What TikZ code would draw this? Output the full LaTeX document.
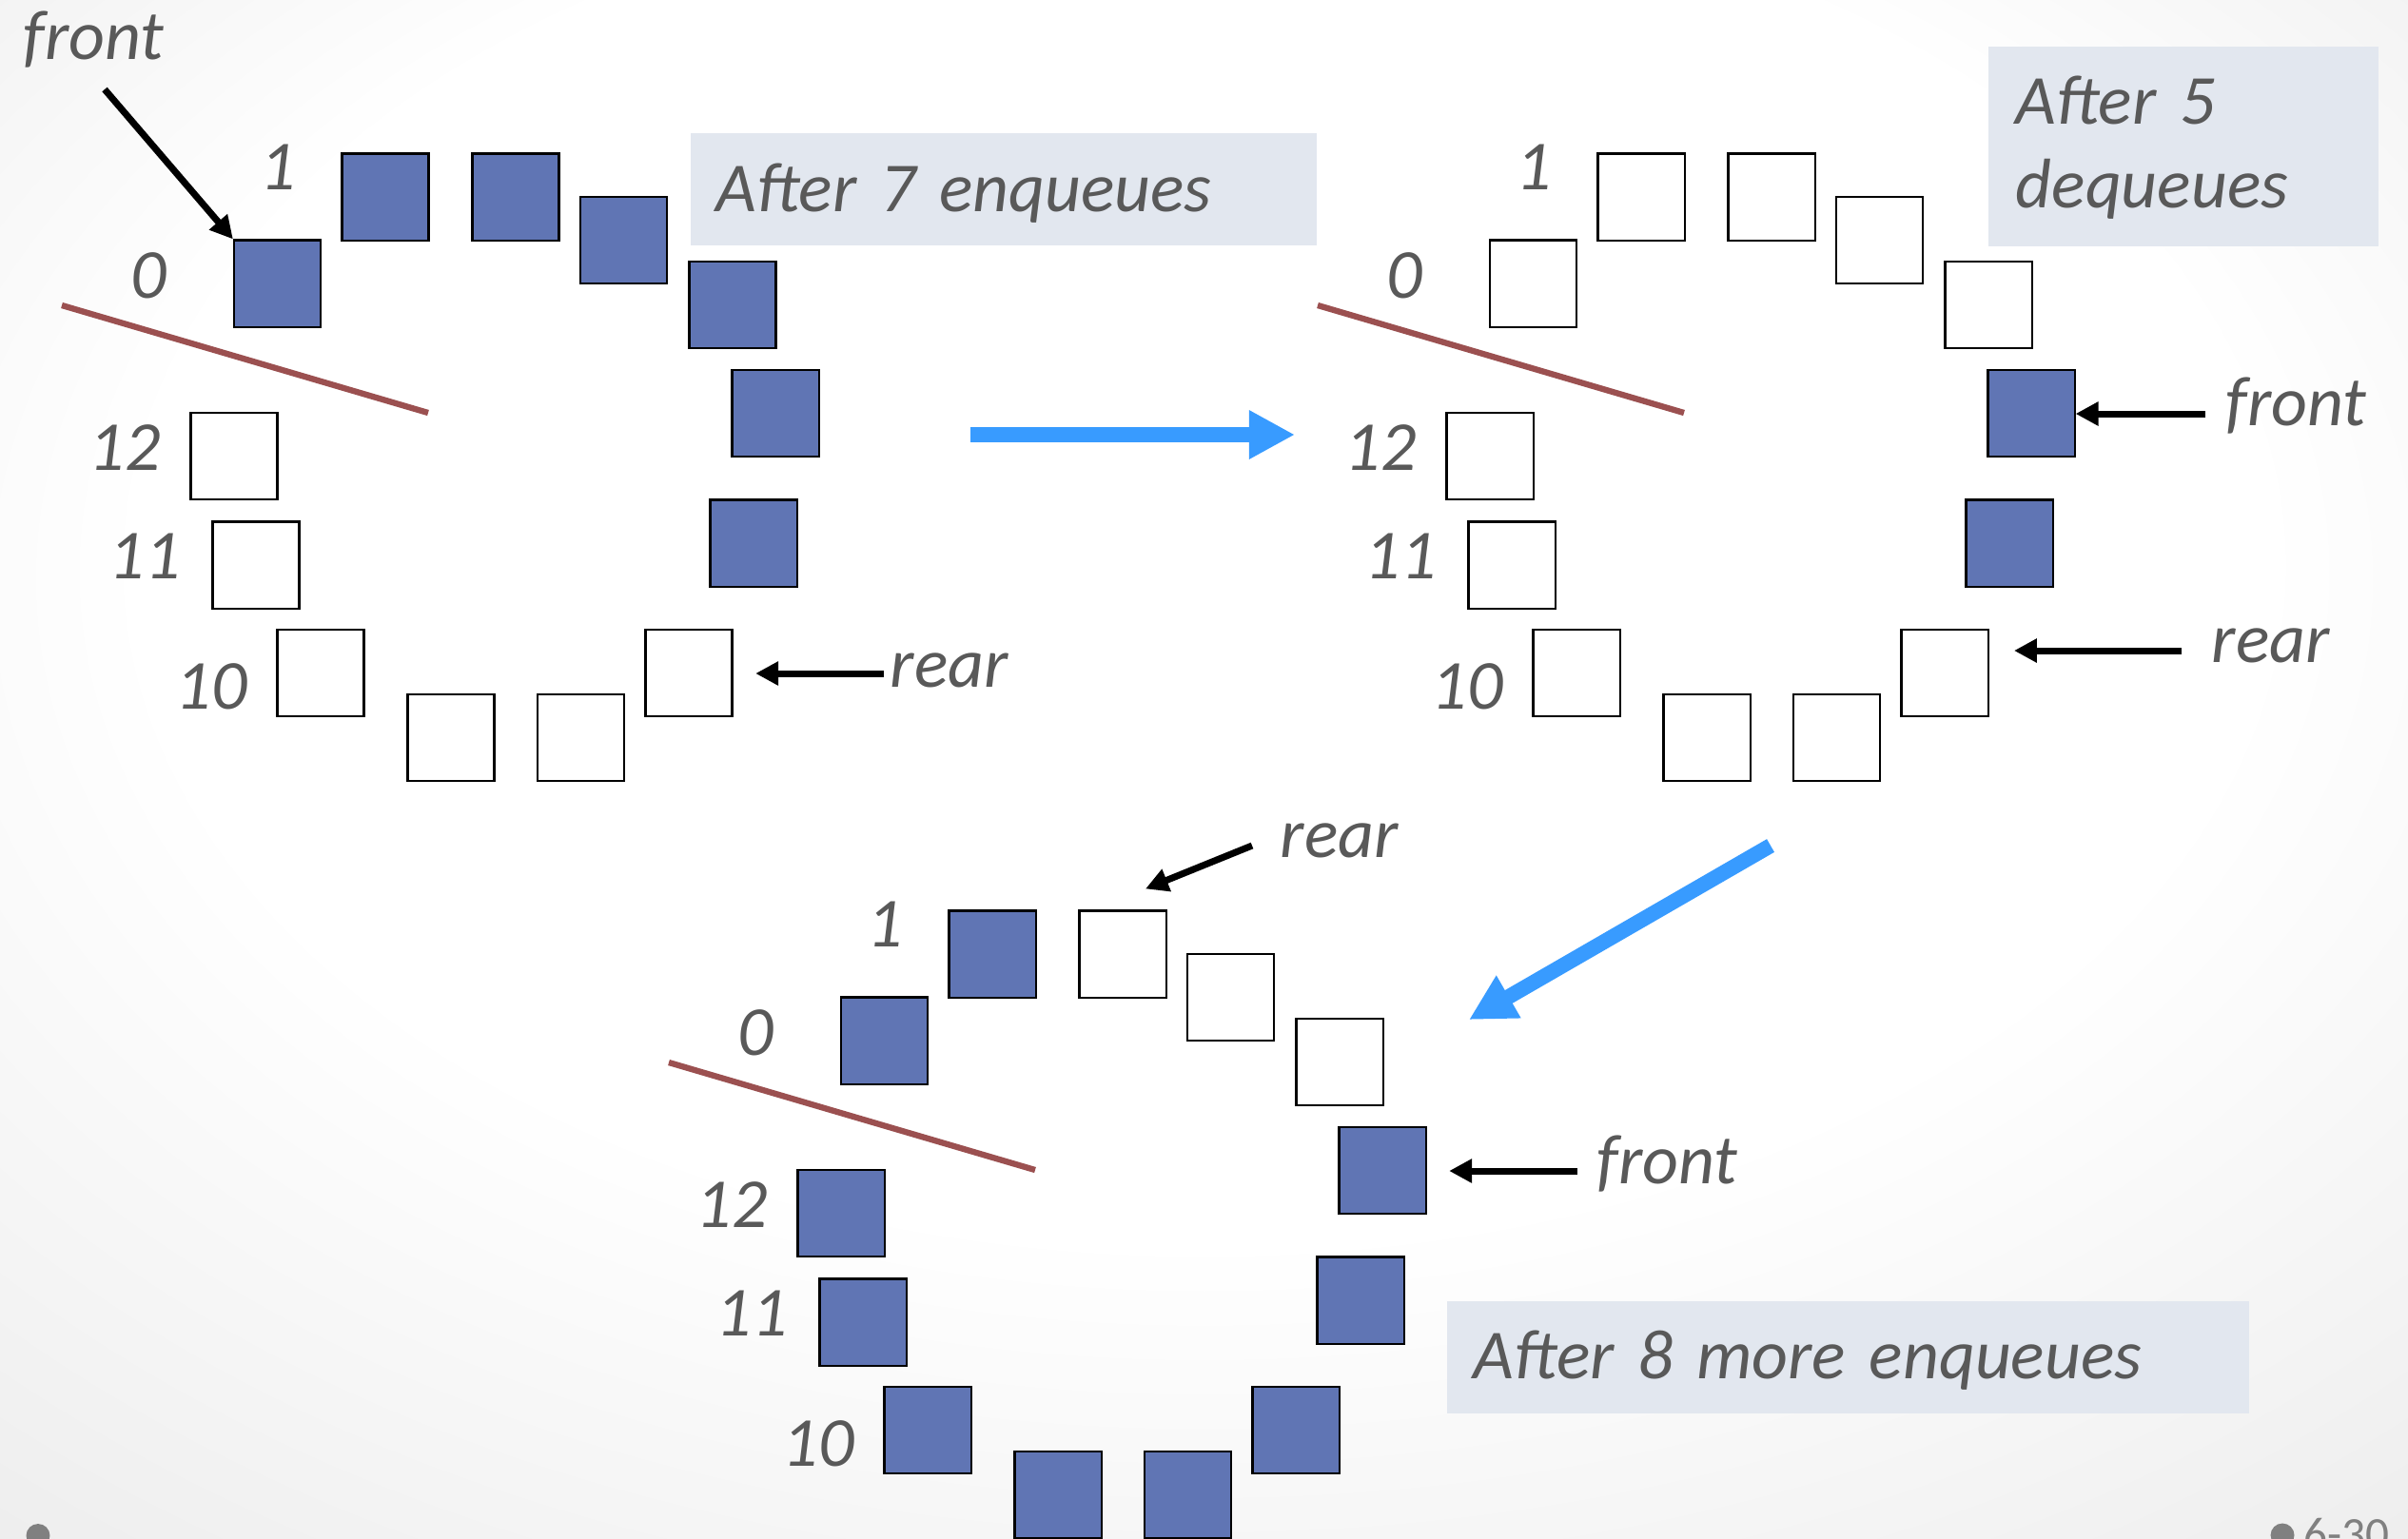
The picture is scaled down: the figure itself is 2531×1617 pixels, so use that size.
\documentclass[tikz,border=0pt]{standalone}
\usepackage{fontspec}
\setmainfont{Carlito}
\usetikzlibrary{arrows.meta}
\definecolor{qblue}{RGB}{96,117,180}
\definecolor{txtgray}{RGB}{89,89,89}
\definecolor{capfill}{RGB}{226,231,239}
\definecolor{arrowblue}{RGB}{56,155,255}
\definecolor{divbrown}{RGB}{155,80,80}
\definecolor{bgedge}{RGB}{224,224,224}
\definecolor{footgray}{RGB}{128,128,128}
\pgfdeclareradialshading{slidebg}{\pgfpoint{0bp}{12bp}}{color(0bp)=(white); color(22bp)=(white); color(50bp)=(bgedge)}

\newcommand\ringpts{0/291.5/298, 1/405/207, 2/542/207, 3/655.5/252.5, 4/770/320.5, 5/815/434.5, 6/792/571, 7/724/707.5, 8/610.5/775.5, 9/474/775.5, 10/337/707.5, 11/269/594, 12/246/479.5}

\newcommand\drawring[4]{%
  \begin{scope}[shift={(#2,#3)}]
    \foreach \i/\x/\y in \ringpts {
      \pgfmathtruncatemacro\isfull{{#4}[\i]}
      \ifnum\isfull=1 \def\cfill{qblue}\else\def\cfill{white}\fi
      \node[cell, fill=\cfill] (#1\i) at (\x,\y) {};
    }
    \node[lbl, anchor=base] (#1lone) at (292,199) {1};
    \node[lbl, anchor=base] (#1lzero) at (156,313) {0};
    \node[lbl, anchor=base] (#1ltwelve) at (131,494) {12};
    \node[lbl, anchor=base] (#1leleven) at (152,608) {11};
    \node[lbl, anchor=base] (#1lten) at (222,745) {10};
    \coordinate (#1da) at (65,321);
    \coordinate (#1db) at (450,434);
    \draw[divider] (#1da) -- (#1db);
  \end{scope}}

\begin{document}
\begin{tikzpicture}[x=0.01cm, y=-0.01cm,
  cell/.style={draw=black, line width=0.6pt, minimum size=25.9pt, inner sep=0pt},
  lbl/.style={font=\fontsize{21}{25}\selectfont\itshape, text=txtgray, inner sep=0pt},
  ptr/.style={-{Triangle[length=6.8pt,width=6.8pt]}, line width=2pt, draw=black},
  bigarrow/.style={-{Triangle[length=13.7pt,width=13.7pt]}, line width=4.5pt, draw=arrowblue},
  divider/.style={line width=1.8pt, draw=divbrown},
  capbox/.style={lbl, fill=capfill, inner ysep=0pt, align=left, anchor=north west},
  footdot/.style={circle, fill=footgray, minimum size=7.1pt, inner sep=0pt}
]
\useasboundingbox (0,0) rectangle (2531,1617);
\clip (0,0) rectangle (2531,1617);
\shade[shading=slidebg] (0,0) rectangle (2531,1617);

% captions
\node[capbox, inner xsep=7.7pt, text width=171.8pt, text height=23.6pt, text depth=10pt] (capA) at (725,139) {After 7 enqueues};
\node[capbox, inner xsep=8.25pt, text width=100.1pt, text height=23.3pt, text depth=36.4pt] (capB) at (2089,48) {After 5\\dequeues};
\node[capbox, inner xsep=8pt, text width=223.8pt, text height=23.3pt, text depth=10.3pt] (capC) at (1520,1367) {After 8 more enqueues};

% rings
\drawring{A}{0}{0}{1,1,1,1,1,1,1,0,0,0,0,0,0}
\drawring{B}{1320}{0}{0,0,0,0,0,1,1,0,0,0,0,0,0}
\drawring{C}{638}{796}{1,1,0,0,0,1,1,1,1,1,1,1,1}

% ring A pointers
\node[lbl, anchor=base west] (frontA) at (24,62) {front};
\coordinate (fAt) at (110,94);
\draw[ptr] (fAt) -- (A0.north west);
\node[lbl, anchor=base west] (rearA) at (935,722) {rear};
\coordinate (rAt) at (929,708);
\draw[ptr, shorten >=6.7pt] (rAt) -- (rAt -| A7.east);

% ring B pointers
\node[lbl, anchor=base west] (frontB) at (2339,447) {front};
\coordinate (fBt) at (2318,435);
\draw[ptr] (fBt) -- (fBt -| B5.east);
\node[lbl, anchor=base west] (rearB) at (2324,696) {rear};
\coordinate (rBt) at (2293,684);
\draw[ptr, shorten >=7.5pt] (rBt) -- (rBt -| B7.east);

% ring C pointers
\node[lbl, anchor=base west] (rearC) at (1345,901) {rear};
\coordinate (rCt) at (1316,889);
\draw[ptr] (rCt) -- ([shift={(24,-22)}]C2.north);
\node[lbl, anchor=base west] (frontC) at (1678,1244) {front};
\coordinate (fCt) at (1658,1231);
\draw[ptr, shorten >=6.7pt] (fCt) -- (fCt -| C5.east);

% big blue arrows
\coordinate (baOt) at (1020,457);
\coordinate (baOh) at (1361,457);
\draw[bigarrow] (baOt) -- (baOh);
\coordinate (baTt) at (1861,889);
\coordinate (baTh) at (1544,1072);
\draw[bigarrow] (baTt) -- (baTh);

% footer
\node[footdot] (dotL) at (40,1614.5) {};
\node[footdot] (dotR) at (2399,1614) {};
\node[font=\fontsize{14}{16}\selectfont, text=footgray, anchor=base west, inner sep=0pt] (pnum) at (2421,1629) {6-30};
\end{tikzpicture}
\end{document}
